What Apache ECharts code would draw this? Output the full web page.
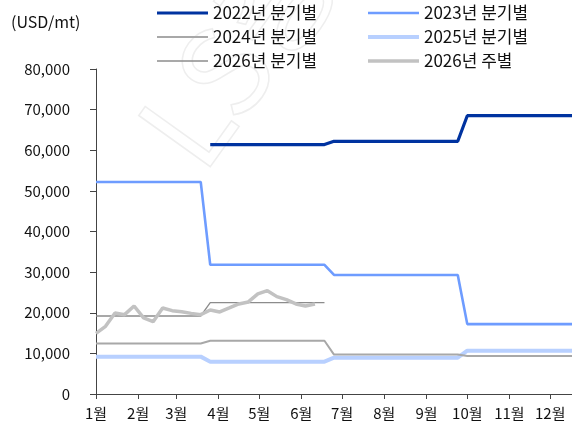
<!DOCTYPE html>
<html><head><meta charset="utf-8">
<script src="https://cdn.jsdelivr.net/npm/echarts@6/dist/echarts.min.js"></script>
<style>html,body{margin:0;padding:0;background:#fff}#c{width:572px;height:426px}</style>
</head><body><div id="c"></div>
<script>
// month tick positions (day of year) and labels
const monthDays = [0,31,59,90,120,151,181,212,243,273,304,334];
const monthLabels = ['1월','2월','3월','4월','5월','6월','7월','8월','9월','10월','11월','12월'];
// quarter boundaries in weeks (first week index of each quarter)
const quarterStartWeek = [0,12,25,39];
const totalWeeks = 51;
// quarterly values (USD/mt); null = no data
const q2022 = [null, 61400, 62200, 68500];
const q2023 = [52200, 31800, 29300, 17200];
const q2024 = [12450, 13100, 9700, 9350];
const q2025 = [9200, 7950, 8950, 10650];
const q2026 = [19200, 22500, null, null];
// 2026 weekly values
const w2026 = [14930,16650,19950,19530,21670,18720,17810,21180,20520,20270,19850,19530,20690,20200,21180,22170,22660,24630,25440,23970,23230,22170,21670,22170];

function quarterToWeekly(q){
  const out=[];
  for(let w=0; w<totalWeeks; w++){
    let qi=0; for(let k=0;k<4;k++){ if(w>=quarterStartWeek[k]) qi=k; }
    if(q[qi]!==null) out.push([w*7, q[qi]]);
  }
  return out;
}
const wk = w2026.map((v,i)=>[i*7,v]);

const font = "'Noto Sans CJK KR','Noto Sans',sans-serif";
const names = ['2022년 분기별','2023년 분기별','2024년 분기별','2025년 분기별','2026년 분기별','2026년 주별'];
const colors = ['#0033a0','#6e9cff','#a8a8a8','#b8d0ff','#8c8c8c','#c2c2c2'];
const widths = [3.2,2.6,2,4,1.3,3.5];
const datas = [quarterToWeekly(q2022),quarterToWeekly(q2023),quarterToWeekly(q2024),quarterToWeekly(q2025),quarterToWeekly(q2026),wk];
const z = [5,4,3,2,6,7];
const legendPos = [[157,13],[368,13],[157,37],[368,37],[157,61],[368,61]];

const series = names.map((n,i)=>({
  name:n, type:'line', data:datas[i], symbol:'none', showSymbol:false, z:z[i],
  lineStyle:{color:colors[i], width:widths[i]}, itemStyle:{color:colors[i]}, animation:false
}));
const legends = names.map((n,i)=>({
  data:[n], left:legendPos[i][0], top:legendPos[i][1]-9, itemWidth:51, itemHeight:Math.max(widths[i],1.5), itemGap:0,
  icon:'rect', padding:0,
  textStyle:{fontFamily:font, fontSize:17, color:'#111', lineHeight:18}
}));

const chart = echarts.init(document.getElementById('c'));
chart.setOption({
  animation:false,
  backgroundColor:'#fff',
  legend: legends,
  graphic:[
    {type:'text', left:11, top:14, style:{text:'(USD/mt)', font:"16px "+font, fill:'#111'}},
    {type:'text', x:215, y:185, rotation:0.95, z:-1, silent:true,
     style:{text:'LS증권', font:"120px "+font, fill:'none', stroke:'#eeeeee', lineWidth:1.5, verticalAlign:'bottom'}}
  ],
  grid:{left:96, right:0, top:69, bottom:32, containLabel:false},
  xAxis:{
    type:'value', min:0, max:350,
    axisLine:{show:true, lineStyle:{color:'#444', width:1}},
    axisTick:{show:true, length:5, lineStyle:{color:'#444'}, customValues:monthDays},
    axisLabel:{customValues:monthDays, formatter:(v)=>monthLabels[monthDays.indexOf(v)]||'', fontFamily:font, fontSize:15, color:'#111', margin:12},
    splitLine:{show:false}
  },
  yAxis:{
    type:'value', min:0, max:80000, interval:10000,
    axisLine:{show:true, lineStyle:{color:'#444', width:1}},
    axisTick:{show:true, length:6, lineStyle:{color:'#444'}},
    axisLabel:{formatter:(v)=>v.toLocaleString('en-US'), fontFamily:font, fontSize:15, color:'#111', margin:26},
    splitLine:{show:false}
  },
  series: series
});
</script></body></html>
